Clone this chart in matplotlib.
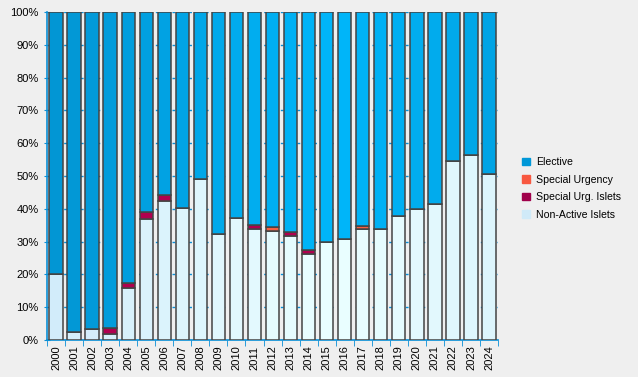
import numpy as np
import matplotlib.pyplot as plt
from matplotlib.colors import LinearSegmentedColormap

plt.rcParams['font.family'] = ['Liberation Sans', 'DejaVu Sans']

years = [str(y) for y in range(2000, 2025)]

# shares in percent
non_active = [20.1, 2.4, 3.3, 1.8, 15.9, 36.9, 42.4, 40.2, 49.1, 32.3, 37.2, 33.8, 33.2,
              31.7, 26.2, 29.9, 30.8, 33.8, 33.8, 37.8, 39.9, 41.5, 54.6, 56.4, 50.7]
sp_urg_islets = [0, 0, 0, 1.8, 1.6, 2.2, 1.9, 0, 0, 0, 0, 1.4, 0,
                 1.3, 1.3, 0, 0, 0, 0, 0, 0, 0, 0, 0, 0]
sp_urgency = [0, 0, 0, 0, 0, 0, 0, 0, 0, 0, 0, 0, 1.2,
              0, 0, 0, 0, 1.0, 0, 0, 0, 0, 0, 0, 0]
elective = [100 - a - b - c for a, b, c in zip(non_active, sp_urg_islets, sp_urgency)]

x = np.arange(len(years))

# the original has a soft gradient across the plot area
t = 1 - np.abs(x - 15.5) / 15.5
elec_cm = LinearSegmentedColormap.from_list('e', ['#0296d4', '#00b6fa'])
non_cm = LinearSegmentedColormap.from_list('n', ['#d2ecfa', '#eaffff'])
elec_cols = [elec_cm(v) for v in t]
non_cols = [non_cm(v) for v in t]

fig = plt.figure(figsize=(6.38, 3.77), dpi=100)
fig.patch.set_facecolor('#efefef')
ax = fig.add_axes([0.0737, 0.0981, 0.7069, 0.8699])
ax.set_facecolor('#efefef')

ekw = dict(width=0.74, edgecolor='#444444', linewidth=1.1, zorder=3)
ax.bar(x, non_active, color=non_cols, **ekw)
bottom = np.array(non_active)
ax.bar(x, sp_urg_islets, bottom=bottom, color='#b0004e', **ekw)
bottom = bottom + np.array(sp_urg_islets)
ax.bar(x, sp_urgency, bottom=bottom, color='#f86040', **ekw)
bottom = bottom + np.array(sp_urgency)
ax.bar(x, elective, bottom=bottom, color=elec_cols, **ekw)

ax.set_xlim(-0.5, len(years) - 0.5)
ax.set_ylim(0, 100)
ax.set_yticks(range(0, 101, 10))
ax.set_yticklabels(['{}%'.format(v) for v in range(0, 101, 10)], fontsize=8)
ax.set_xticks(x)
ax.set_xticklabels(years, rotation=90, fontsize=8)
ax.set_xticks(np.arange(-0.5, len(years), 1), minor=True)
ax.tick_params(axis='x', which='major', length=0, pad=4)
ax.tick_params(axis='x', which='minor', length=4, color='#0a8fd6', direction='out')
ax.tick_params(axis='y', length=5, color='#0a8fd6', direction='inout')

ax.yaxis.grid(True, color='#0a8fd6', linewidth=1, linestyle=(0, (2, 4)), zorder=0)
ax.set_axisbelow(True)

for s in ['top', 'right']:
    ax.spines[s].set_visible(False)
for s in ['left', 'bottom']:
    ax.spines[s].set_color('#0a8fd6')
    ax.spines[s].set_linewidth(1.2)

handles = [plt.Rectangle((0, 0), 1, 1, color=c) for c in
           ['#0098d8', '#f85840', '#a0004a', '#d0eaf8']]
labels = ['Elective', 'Special Urgency', 'Special Urg. Islets', 'Non-Active Islets']
fig.legend(handles, labels, loc='center left', bbox_to_anchor=(0.803, 0.5),
           frameon=False, fontsize=7.6, handlelength=0.75, handleheight=0.75,
           handletextpad=0.6, labelspacing=0.72)

fig.savefig('out.png', dpi=100, facecolor=fig.get_facecolor())
